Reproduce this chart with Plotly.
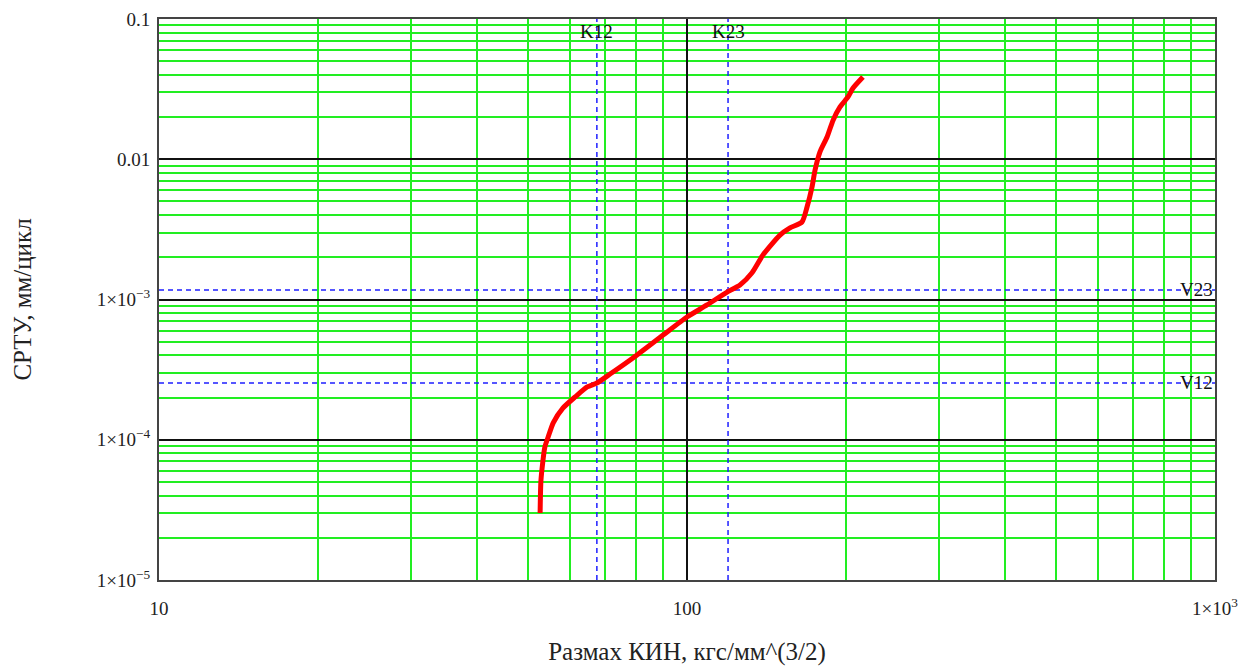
import numpy as np
import plotly.graph_objects as go

# ---- data ----
dk = [52.7, 52.9, 53.8, 54.6, 55.8, 58.2, 61.4, 64.7, 67.5, 71.5, 79.0, 90.1, 100.0,
      109.1, 119.1, 126.0, 132.8, 139.3, 150.0, 156.7, 165.1, 168.8, 172.5, 174.8,
      178.6, 184.2, 189.1, 194.9, 201.8, 206.3, 215.4]
rate = [3.0e-5, 5.16e-5, 8.87e-5, 1.05e-4, 1.32e-4, 1.68e-4, 2.02e-4, 2.38e-4, 2.54e-4,
        2.94e-4, 3.83e-4, 5.58e-4, 7.5e-4, 9.14e-4, 1.13e-3, 1.27e-3, 1.55e-3, 2.08e-3,
        2.88e-3, 3.24e-3, 3.57e-3, 4.57e-3, 6.34e-3, 8.38e-3, 1.13e-2, 1.44e-2, 1.90e-2,
        2.36e-2, 2.78e-2, 3.22e-2, 3.86e-2]

K12 = 67.5
K23 = 119.6
V12 = 2.54e-4
V23 = 1.17e-3

x_range = [10, 1000]
y_range = [1e-5, 0.1]

x_tickvals = [10, 100, 1000]
x_ticktext = ["10", "100", "1×10<sup>3</sup>"]
y_tickvals = [1e-5, 1e-4, 1e-3, 0.01, 0.1]
y_ticktext = ["1×10<sup>−5</sup>", "1×10<sup>−4</sup>", "1×10<sup>−3</sup>", "0.01", "0.1"]

x_title = "Размах КИН, кгс/мм^(3/2)"
y_title = "СРТУ, мм/цикл"

# minor grid positions (2..9 in each decade)
x_minor = [d * m for d in [10, 100] for m in range(2, 10)]
y_minor = [d * m for d in [1e-5, 1e-4, 1e-3, 1e-2] for m in range(2, 10)]

FONT = "Liberation Serif"
GREEN = "#22ee22"
BLUE = "#1f1fff"

fig = go.Figure()

dash_line = dict(color=BLUE, width=1.5, dash="5px,4px")
fig.add_trace(go.Scatter(x=[K12, K12], y=y_range, mode="lines", line=dash_line,
                         hoverinfo="skip", showlegend=False))
fig.add_trace(go.Scatter(x=[K23, K23], y=y_range, mode="lines", line=dash_line,
                         hoverinfo="skip", showlegend=False))
fig.add_trace(go.Scatter(x=x_range, y=[V12, V12], mode="lines", line=dash_line,
                         hoverinfo="skip", showlegend=False))
fig.add_trace(go.Scatter(x=x_range, y=[V23, V23], mode="lines", line=dash_line,
                         hoverinfo="skip", showlegend=False))

# main curve
fig.add_trace(go.Scatter(x=dk, y=rate, mode="lines",
                         line=dict(color="#ff0000", width=5, shape="spline", smoothing=0.6),
                         showlegend=False))

# labels of reference lines
lab_font = dict(family=FONT, size=19, color="#111")
fig.add_annotation(x=np.log10(K12), y=1, xref="x", yref="paper", text="K12",
                   showarrow=False, font=lab_font, xanchor="center", yanchor="top", yshift=0)
fig.add_annotation(x=np.log10(K23), y=1, xref="x", yref="paper", text="K23",
                   showarrow=False, font=lab_font, xanchor="center", yanchor="top", yshift=0)
fig.add_annotation(x=1, y=np.log10(V23), xref="paper", yref="y", text="V23",
                   showarrow=False, font=lab_font, xanchor="right", yanchor="middle", xshift=0)
fig.add_annotation(x=1, y=np.log10(V12), xref="paper", yref="y", text="V12",
                   showarrow=False, font=lab_font, xanchor="right", yanchor="middle", xshift=0)

fig.update_layout(
    width=1245, height=666,
    margin=dict(l=159, r=30, t=19, b=86),
    paper_bgcolor="white", plot_bgcolor="white",
    font=dict(family=FONT, size=19, color="#222"),
    showlegend=False,
)

fig.update_xaxes(
    type="log", range=[np.log10(x_range[0]), np.log10(x_range[1])],
    automargin=False,
    tickmode="array", tickvals=x_tickvals, ticktext=x_ticktext,
    ticks="outside", ticklen=10, tickcolor="rgba(0,0,0,0)",
    tickfont=dict(family=FONT, size=19, color="#222"),
    showgrid=True, gridcolor="#111", gridwidth=1.5,
    minor=dict(tickmode="array", tickvals=x_minor, showgrid=True,
               gridcolor=GREEN, gridwidth=1.5, ticks=""),
    showline=True, mirror=True, linecolor="#444", linewidth=2,
    zeroline=False,
    title=dict(text=x_title, font=dict(family=FONT, size=25, color="#222"), standoff=30),
)
fig.update_yaxes(
    type="log", range=[np.log10(y_range[0]), np.log10(y_range[1])],
    automargin=False,
    tickmode="array", tickvals=y_tickvals, ticktext=y_ticktext,
    ticks="outside", ticklen=3, tickcolor="rgba(0,0,0,0)",
    tickfont=dict(family=FONT, size=19, color="#222"),
    showgrid=True, gridcolor="#111", gridwidth=1.5,
    minor=dict(tickmode="array", tickvals=y_minor, showgrid=True,
               gridcolor=GREEN, gridwidth=1.5, ticks=""),
    showline=True, mirror=True, linecolor="#444", linewidth=2,
    zeroline=False,
    title=dict(text=y_title, font=dict(family=FONT, size=25, color="#222"), standoff=58),
)

fig.write_html("out.html")
